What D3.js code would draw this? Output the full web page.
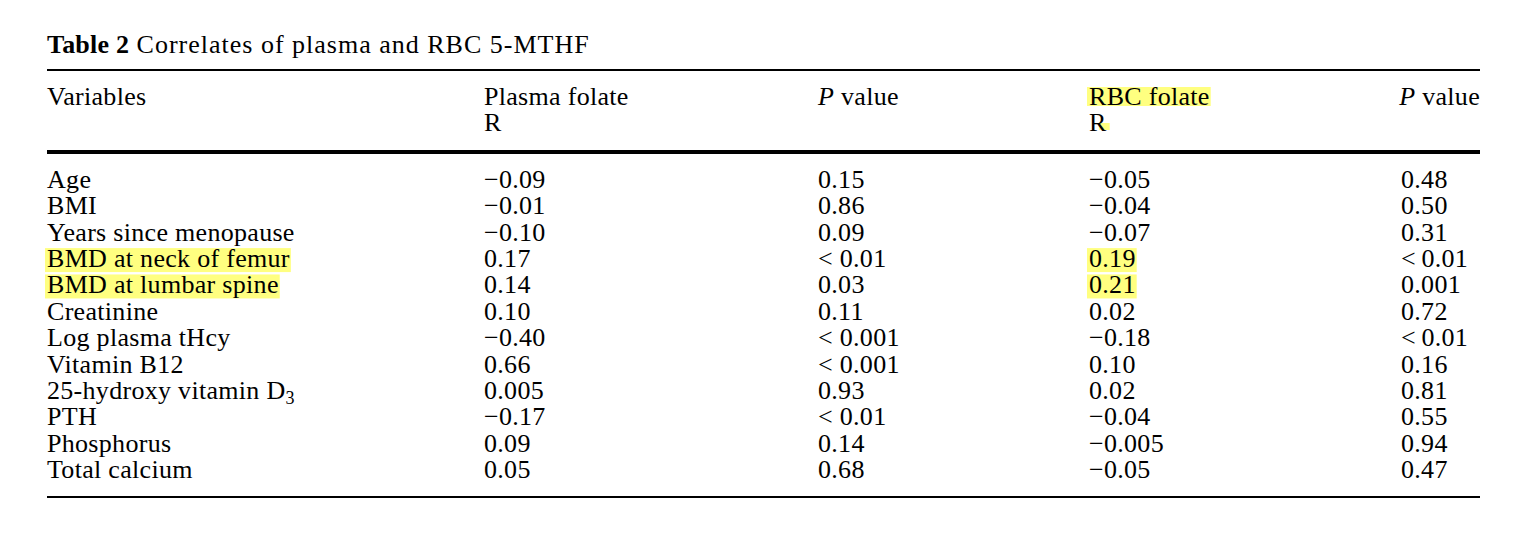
<!DOCTYPE html>
<html>
<head>
<meta charset="utf-8">
<script src="https://cdn.jsdelivr.net/npm/d3@7"></script>
<style>
  body { margin: 0; background: #fff; }
  svg text { font-family: "Liberation Serif", "Times New Roman", serif; fill: #000; letter-spacing: 0.3px; }
</style>
</head>
<body>
<div id="table"></div>
<script>
// table contents
let variables = ["Age", "BMI", "Years since menopause", "BMD at neck of femur", "BMD at lumbar spine",
    "Creatinine", "Log plasma tHcy", "Vitamin B12", "25-hydroxy vitamin D|3", "PTH", "Phosphorus", "Total calcium"];
let plasmaR = ["\u22120.09", "\u22120.01", "\u22120.10", "0.17", "0.14", "0.10", "\u22120.40", "0.66", "0.005", "\u22120.17", "0.09", "0.05"];
let plasmaP = ["0.15", "0.86", "0.09", "< 0.01", "0.03", "0.11", "< 0.001", "< 0.001", "0.93", "< 0.01", "0.14", "0.68"];
let rbcR = ["\u22120.05", "\u22120.04", "\u22120.07", "0.19", "0.21", "0.02", "\u22120.18", "0.10", "0.02", "\u22120.04", "\u22120.005", "\u22120.05"];
let rbcP = ["0.48", "0.50", "0.31", "<\u20090.01", "0.001", "0.72", "<\u20090.01", "0.16", "0.81", "0.55", "0.94", "0.47"];
let highlightedRows = ["BMD at neck of femur", "BMD at lumbar spine"];

const width = 1537, height = 544;
const HL = "#ffff80";
const fontSize = 26;

let svg = d3.select("#table")
    .append("svg")
    .attr("width", width)
    .attr("height", height);

let x = d3.scaleOrdinal()
    .domain(["var", "pr", "pp", "rr", "rp"])
    .range([47, 484, 818, 1089, 1401]);

let y = d3.scaleLinear()
    .domain([0, variables.length - 1])
    .range([188, 478]);

let hlLayer = svg.append("g");
let textLayer = svg.append("g");

// title
let title = textLayer.append("text")
    .attr("x", 47)
    .attr("y", 53)
    .style("font-size", fontSize + "px");
title.append("tspan").style("font-weight", "bold").style("letter-spacing", "0.2px").text("Table 2");
title.append("tspan").style("letter-spacing", "1px").text(" Correlates of plasma and RBC 5-MTHF");

// rules
svg.append("rect").attr("x", 47).attr("y", 69).attr("width", 1433).attr("height", 2);
svg.append("rect").attr("x", 47).attr("y", 150).attr("width", 1433).attr("height", 4);
svg.append("rect").attr("x", 47).attr("y", 496).attr("width", 1433).attr("height", 2);

// header
function header(col, line1, line2, italicP) {
    let t = textLayer.append("text").attr("x", x(col)).attr("y", 105).style("font-size", fontSize + "px");
    if (italicP) {
        t.append("tspan").style("font-style", "italic").text("P");
        t.append("tspan").text(" value");
    } else {
        t.text(line1);
    }
    let t2 = null;
    if (line2) {
        t2 = textLayer.append("text").attr("x", x(col)).attr("y", 131).style("font-size", fontSize + "px").text(line2);
    }
    return [t, t2];
}
header("var", "Variables");
header("pr", "Plasma folate", "R");
header("pp", null, null, true);
let rbcHead = header("rr", "RBC folate", "R");
let lastHead = header("rp", null, null, true);
// last P value header sits flush with the right rule
lastHead[0].attr("x", 1480).attr("text-anchor", "end");

// highlight behind RBC folate header
let hb = rbcHead[0].node().getBBox();
hlLayer.append("rect")
    .attr("x", hb.x - 2).attr("y", 87)
    .attr("width", hb.width + 3).attr("height", 19)
    .attr("fill", HL);
let rb = rbcHead[1].node().getBBox();
hlLayer.append("rect")
    .attr("x", rb.x + rb.width * 0.55).attr("y", 123)
    .attr("width", rb.width * 0.6).attr("height", 7)
    .attr("fill", HL);

// body rows
let cols = [["var", variables], ["pr", plasmaR], ["pp", plasmaP], ["rr", rbcR], ["rp", rbcP]];
cols.forEach(function ([col, values]) {
    let cells = textLayer.selectAll(null)
        .data(values)
        .enter()
        .append("text")
        .attr("x", x(col))
        .attr("y", function (d, i) { return y(i); })
        .style("font-size", fontSize + "px");

    cells.each(function (d) {
        let parts = d.split("|");
        let sel = d3.select(this);
        sel.append("tspan").text(parts[0]);
        if (parts[1]) {
            sel.append("tspan")
                .attr("dy", 5)
                .style("font-size", "18px")
                .text(parts[1]);
        }
    });

    if (col === "var" || col === "rr") {
        cells.filter(function (d, i) { return highlightedRows.indexOf(variables[i]) >= 0; })
            .each(function (d, i) {
                let b = this.getBBox();
                let yy = +d3.select(this).attr("y");
                hlLayer.append("rect")
                    .attr("x", b.x - 2)
                    .attr("y", yy - 19)
                    .attr("width", b.width + 3)
                    .attr("height", 24)
                    .attr("fill", HL);
            });
    }
});
</script>
</body>
</html>
